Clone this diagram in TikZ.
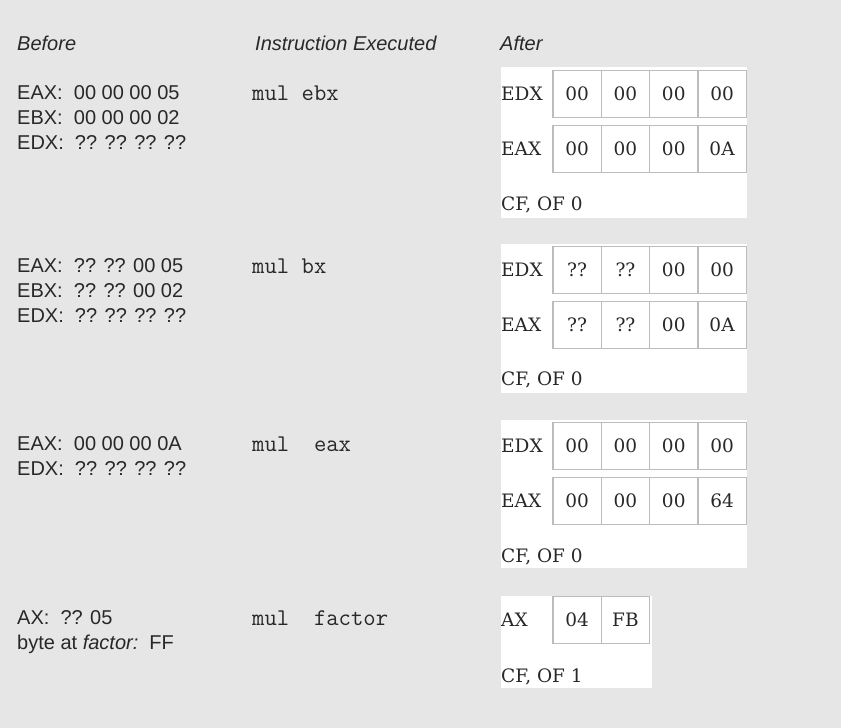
\documentclass[tikz,border=0pt]{standalone}
\usepackage{fontspec}
\setmainfont{Liberation Sans}
\newfontfamily\regf{DejaVu Serif}
\definecolor{pagebg}{RGB}{230,230,230}
\definecolor{cellline}{RGB}{188,188,188}
\definecolor{inktext}{RGB}{40,40,40}
\tikzset{
  txt/.style={anchor=base west, inner sep=0pt, text=inktext, font=\fontsize{20}{25}\selectfont},
  head/.style={txt, font=\fontsize{20}{25}\selectfont\itshape},
  instr/.style={anchor=base west, inner sep=0pt, text=inktext, font=\ttfamily\fontsize{24}{25}\selectfont},
  panel/.style={fill=white, draw=none},
  cell/.style={draw=cellline, line width=1.2pt, fill=white, minimum width=48.3pt, minimum height=47.5pt,
    inner sep=0pt, anchor=center, text=inktext, font=\regf\fontsize{18.5}{22}\selectfont},
  reglabel/.style={anchor=west, inner sep=0pt, text=inktext, font=\regf\fontsize{18.5}{22}\selectfont},
  flags/.style={anchor=base west, inner sep=0pt, text=inktext, font=\regf\fontsize{18.5}{22}\selectfont},
}
% one register: label, then a row of byte cells
\newcommand\regrow[4]{%
  \node[reglabel] (#1-lbl) at (501,#3) {#2};
  \foreach \v [count=\i] in {#4} {
    \node[cell] (#1-\i) at ({553+48.3*(\i-0.5)},#3) {\v};
  }%
}
\begin{document}
\begin{tikzpicture}[x=1pt,y=-1pt]
\useasboundingbox[fill=pagebg] (0,0) rectangle (841,728);

% column headings
\node[head] (hbefore) at (17,50) {Before};
\node[head] (hinstr) at (255,50) {Instruction Executed};
\node[head] (hafter) at (500,50) {After};

% ---- mul ebx ----
\node[txt] (b1a) at (17,99) {EAX:~~00 00 00 05};
\node[txt] (b1b) at (17,124) {EBX:~~00 00 00 02};
\node[txt] (b1c) at (17,149) {EDX:~~?? ?? ?? ??};
\node[instr] (i1) at (252,100) {mul ebx};
\fill[panel] (501,67) rectangle (747,218);
\regrow{r1d}{EDX}{94}{00,00,00,00}
\regrow{r1a}{EAX}{149}{00,00,00,0A}
\node[flags] (f1) at (501,210) {CF, OF 0};

% ---- mul bx ----
\node[txt] (b2a) at (17,272) {EAX:~~?? ?? 00 05};
\node[txt] (b2b) at (17,297) {EBX:~~?? ?? 00 02};
\node[txt] (b2c) at (17,322) {EDX:~~?? ?? ?? ??};
\node[instr] (i2) at (252,273) {mul bx};
\fill[panel] (501,244) rectangle (747,393);
\regrow{r2d}{EDX}{270}{??,??,00,00}
\regrow{r2a}{EAX}{325}{??,??,00,0A}
\node[flags] (f2) at (501,385) {CF, OF 0};

% ---- mul eax ----
\node[txt] (b3a) at (17,450) {EAX:~~00 00 00 0A};
\node[txt] (b3b) at (17,475) {EDX:~~?? ?? ?? ??};
\node[instr] (i3) at (252,451) {mul\ \ eax};
\fill[panel] (501,420) rectangle (747,568);
\regrow{r3d}{EDX}{446}{00,00,00,00}
\regrow{r3a}{EAX}{501}{00,00,00,64}
\node[flags] (f3) at (501,562) {CF, OF 0};

% ---- mul factor ----
\node[txt] (b4a) at (17,624) {AX:~~?? 05};
\node[txt] (b4b) at (17,649) {byte at \textit{factor:}~~FF};
\node[instr] (i4) at (252,625) {mul\ \ factor};
\fill[panel] (501,596) rectangle (652,688);
\regrow{r4}{AX}{620}{04,FB}
\node[flags] (f4) at (501,682) {CF, OF 1};
\end{tikzpicture}
\end{document}
